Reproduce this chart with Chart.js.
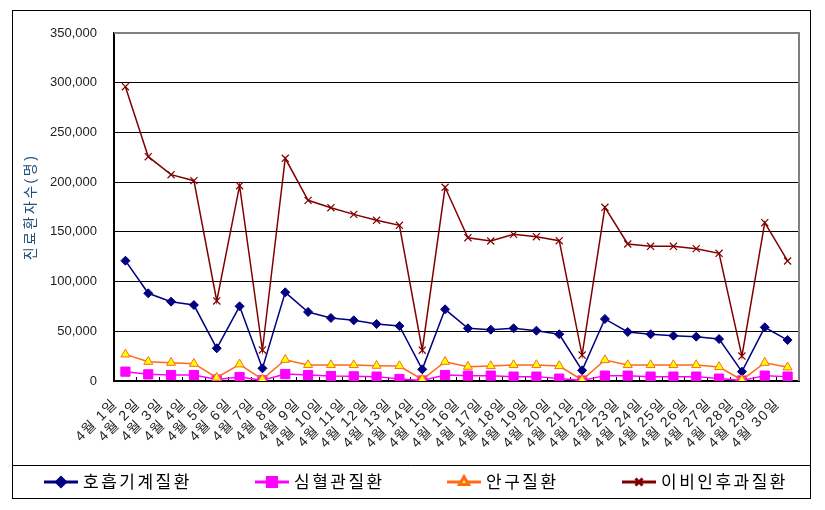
<!DOCTYPE html>
<html>
<head>
<meta charset="utf-8">
<script src="https://cdn.jsdelivr.net/npm/chart.js@4/dist/chart.umd.min.js"></script>
<style>
  body { margin: 0; background: #fff; }
  canvas { display: block; }
</style>
</head>
<body>
<canvas id="chart-1" width="825" height="510"></canvas>
<script>
const days = [
  "4월 1일", "4월 2일", "4월 3일", "4월 4일", "4월 5일", "4월 6일", "4월 7일", "4월 8일", "4월 9일", "4월 10일",
  "4월 11일", "4월 12일", "4월 13일", "4월 14일", "4월 15일", "4월 16일", "4월 17일", "4월 18일", "4월 19일", "4월 20일",
  "4월 21일", "4월 22일", "4월 23일", "4월 24일", "4월 25일", "4월 26일", "4월 27일", "4월 28일", "4월 29일", "4월 30일",
];
const respiratory = [
  121000, 88200, 79800, 76400, 32900, 75100, 12700, 89200, 69400, 63400,
  61000, 57300, 55300, 11700, 72100, 53000, 51600, 53000, 50600, 47000,
  10700, 62400, 49300, 47000, 45600, 44600, 42200, 9400, 54000, 41200,
];
const cardio = [
  9400, 6700, 6000, 6000, 1500, 4000, 700, 7000, 6000, 5000,
  4700, 4400, 2000, 500, 6000, 5400, 5400, 4400, 4400, 2400,
  500, 5400, 5400, 4400, 4400, 4400, 2400, 500, 5400, 4400,
];
const eye = [
  26800, 19400, 18400, 17400, 3400, 16800, 1700, 21400, 16100, 16100,
  16100, 15400, 15100, 1500, 19400, 14400, 15100, 16100, 16100, 15100,
  1000, 21100, 16100, 16100, 16100, 16100, 14100, 1000, 18400, 13800,
];
const ent = [
  296000, 225600, 207500, 201500, 80500, 196400, 31200, 224000, 181700, 174300,
  167600, 161600, 156600, 31000, 194800, 144100, 140800, 147500, 145100, 141100,
  26100, 174700, 137800, 135500, 135500, 133100, 128400, 25100, 159200, 120700,
];
const yTicks = [0, 50000, 100000, 150000, 200000, 250000, 300000, 350000];
const yTitle = "진료환자수(명)";

const FONT = '"Liberation Sans", "Noto Sans CJK KR", sans-serif';
Chart.defaults.font.family = FONT;

// frame, plot border, axis title and legend row like the spreadsheet export
const framePlugin = {
  id: "frame",
  beforeDraw(chart) {
    const ctx = chart.ctx;
    ctx.save();
    ctx.fillStyle = "#fff";
    ctx.fillRect(0, 0, chart.width, chart.height);
    ctx.restore();
  },
  afterDatasetsDraw(chart) {
    // x tick labels (z: 1) are drawn right after this, a bit wider spaced
    chart.ctx.letterSpacing = "1.5px";
  },
  afterDraw(chart) {
    const ctx = chart.ctx;
    const a = chart.chartArea;
    ctx.letterSpacing = "0px";
    ctx.save();
    ctx.strokeStyle = "#808080";
    ctx.lineWidth = 2;
    ctx.beginPath();
    ctx.moveTo(a.left, a.top);
    ctx.lineTo(a.right, a.top);
    ctx.lineTo(a.right, a.bottom);
    ctx.stroke();

    ctx.strokeStyle = "#000";
    ctx.lineWidth = 1;
    ctx.strokeRect(12.5, 10.5, 798, 488);
    ctx.beginPath();
    ctx.moveTo(12, 465.5);
    ctx.lineTo(811, 465.5);
    ctx.stroke();

    // y axis title
    ctx.save();
    ctx.translate(31, (a.top + a.bottom) / 2);
    ctx.rotate(-Math.PI / 2);
    ctx.font = "14px " + FONT;
    ctx.letterSpacing = "2.5px";
    ctx.fillStyle = "#1F4E79";
    ctx.textAlign = "center";
    ctx.textBaseline = "middle";
    ctx.fillText(yTitle, 0, 0);
    ctx.restore();

    const legendX = [44, 255, 447, 622];
    const ly = 482;
    ctx.font = "17px " + FONT;
    ctx.letterSpacing = "2.5px";
    ctx.textBaseline = "middle";
    chart.data.datasets.forEach((ds, i) => {
      const x = legendX[i];
      ctx.strokeStyle = ds.borderColor;
      ctx.lineWidth = 3;
      ctx.beginPath();
      ctx.moveTo(x, ly);
      ctx.lineTo(x + 34, ly);
      ctx.stroke();
      ctx.fillStyle = ds.pointBackgroundColor;
      ctx.strokeStyle = ds.pointBorderColor;
      Chart.helpers.drawPoint(ctx, {
        pointStyle: ds.pointStyle,
        radius: ds.pointRadius,
        rotation: 0,
        borderWidth: ds.pointBorderWidth,
      }, x + 17, ly);
      ctx.fillStyle = "#000";
      ctx.fillText(ds.label, x + 39, ly + 1);
    });
    ctx.restore();
  },
};

new Chart(document.querySelector("#chart-1"), {
  type: "line",
  data: {
    labels: days,
    datasets: [
      {
        label: "호흡기계질환",
        data: respiratory,
        borderColor: "#000080",
        borderWidth: 1.5,
        pointStyle: "rectRot",
        pointRadius: 4.5,
        pointBackgroundColor: "#000080",
        pointBorderColor: "#000080",
        pointBorderWidth: 1,
        order: 3,
      },
      {
        label: "심혈관질환",
        data: cardio,
        borderColor: "#FF00FF",
        borderWidth: 1.5,
        pointStyle: "rect",
        pointRadius: 6.5,
        pointBackgroundColor: "#FF00FF",
        pointBorderColor: "#FF00FF",
        pointBorderWidth: 1,
        order: 2,
      },
      {
        label: "안구질환",
        data: eye,
        borderColor: "#FF6A1A",
        borderWidth: 1.5,
        pointStyle: "triangle",
        pointRadius: 5.2,
        pointBackgroundColor: "#FFFF00",
        pointBorderColor: "#FF6A1A",
        pointBorderWidth: 1,
        order: 1,
      },
      {
        label: "이비인후과질환",
        data: ent,
        borderColor: "#800000",
        borderWidth: 1.5,
        pointStyle: "crossRot",
        pointRadius: 5,
        pointBackgroundColor: "#800000",
        pointBorderColor: "#800000",
        pointBorderWidth: 1.2,
        order: 0,
      },
    ],
  },
  options: {
    responsive: false,
    animation: false,
    devicePixelRatio: 1,
    layout: { padding: { left: 0, top: 33, right: 26, bottom: 0 } },
    plugins: {
      legend: { display: false },
      tooltip: { enabled: false },
    },
    elements: { line: { tension: 0 } },
    scales: {
      x: {
        offset: true,
        grid: {
          offset: true,
          drawOnChartArea: false,
          drawTicks: true,
          tickLength: -4,
          color: "#000",
        },
        border: { display: true, color: "#000", width: 2 },
        ticks: {
          z: 1,
          autoSkip: false,
          maxRotation: 45,
          minRotation: 45,
          labelOffset: -10,
          padding: 19,
          color: "#222",
          font: { size: 14 },
        },
        afterFit(scale) {
          scale.height = 129;
        },
      },
      y: {
        min: 0,
        max: 350000,
        afterBuildTicks(scale) {
          scale.ticks = yTicks.map((v) => ({ value: v }));
        },
        grid: {
          drawTicks: false,
          color: (c) => (c.tick && c.tick.value === 350000 ? "#808080" : "#000"),
          lineWidth: (c) => (c.tick && c.tick.value === 350000 ? 2 : 1),
        },
        border: { display: true, color: "#000", width: 2 },
        ticks: {
          padding: 17,
          color: "#222",
          font: { size: 13 },
          callback: (v) => v.toLocaleString("en-US"),
        },
        afterFit(scale) {
          scale.width = 114;
        },
      },
    },
  },
  plugins: [framePlugin],
});
</script>
</body>
</html>
